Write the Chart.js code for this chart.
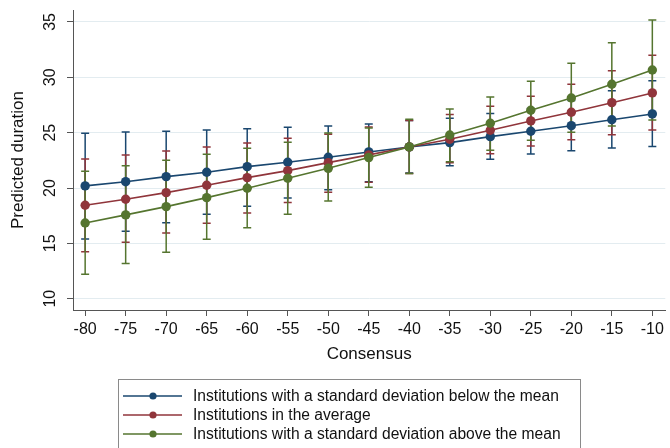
<!DOCTYPE html>
<html>
<head>
<meta charset="utf-8">
<script src="https://cdn.jsdelivr.net/npm/chart.js@4.4.1/dist/chart.umd.min.js"></script>
<style>
    html, body { margin: 0; padding: 0; background: #fff; }
    #wrap { width: 670px; height: 448px; }
</style>
</head>
<body>
<div id="wrap"><canvas id="durationChart" width="670" height="448"></canvas></div>
<script>
// data
const consensus = [-80, -75, -70, -65, -60, -55, -50, -45, -40, -35, -30, -25, -20, -15, -10];

const belowMean  = [20.19, 20.57, 21.03, 21.42, 21.93, 22.33, 22.78, 23.26, 23.71, 24.10, 24.64, 25.13, 25.63, 26.17, 26.69];
const belowHigh  = [24.95, 25.06, 25.13, 25.24, 25.36, 25.49, 25.60, 25.79, 26.10, 26.30, 26.72, 27.18, 27.90, 28.79, 29.70];
const belowLow   = [15.40, 16.10, 16.87, 17.63, 18.35, 19.10, 19.85, 20.57, 21.36, 22.02, 22.60, 23.08, 23.37, 23.62, 23.74];

const averageMean = [18.44, 18.98, 19.58, 20.25, 20.94, 21.57, 22.29, 22.99, 23.71, 24.40, 25.22, 26.06, 26.84, 27.71, 28.59];
const averageHigh = [22.62, 22.99, 23.35, 23.71, 24.07, 24.49, 24.86, 25.50, 26.10, 26.63, 27.38, 28.29, 29.37, 30.60, 31.99];
const averageLow  = [14.25, 15.10, 15.94, 16.81, 17.75, 18.68, 19.62, 20.52, 21.30, 22.29, 23.10, 23.80, 24.37, 24.82, 25.24];

const aboveMean  = [16.84, 17.57, 18.32, 19.13, 19.98, 20.88, 21.78, 22.75, 23.71, 24.79, 25.85, 27.02, 28.13, 29.37, 30.66];
const aboveHigh  = [21.51, 22.02, 22.50, 23.05, 23.59, 24.13, 24.97, 25.42, 26.21, 27.14, 28.22, 29.64, 31.27, 33.13, 35.18];
const aboveLow   = [12.21, 13.17, 14.20, 15.37, 16.42, 17.63, 18.83, 20.07, 21.30, 22.38, 23.40, 24.31, 25.03, 25.60, 26.15];

const seriesNames = [
    "Institutions with a standard deviation below the mean",
    "Institutions in the average",
    "Institutions with a standard deviation above the mean"
];

const xTicks = [-80, -75, -70, -65, -60, -55, -50, -45, -40, -35, -30, -25, -20, -15, -10];
const yTicks = [10, 15, 20, 25, 30, 35];

const navy = "#1a476f";
const maroon = "#90353b";
const forest = "#55752f";
const FONT = "'Liberation Sans', Arial, sans-serif";

const toPoints = (vals)=> consensus.map((c, i)=>({x: c, y: vals[i]}));

const makeSet = (label, vals, low, high, color, order)=>({
    label: label,
    data: toPoints(vals),
    errLow: low,
    errHigh: high,
    borderColor: color,
    backgroundColor: color,
    pointBackgroundColor: color,
    pointBorderColor: color,
    pointRadius: 4.7,
    pointBorderWidth: 0,
    borderWidth: 1.6,
    tension: 0,
    order: order
});

// vertical CI bars with caps, drawn under the lines
const errorBars = {
    id: "errorBars",
    beforeDatasetsDraw(chart){
        const {ctx, scales: {x, y}} = chart;
        ctx.save();
        ctx.lineWidth = 1.5;
        chart.data.datasets.forEach((ds)=>{
            ctx.strokeStyle = ds.borderColor;
            ds.data.forEach((p, i)=>{
                const px = x.getPixelForValue(p.x);
                const top = y.getPixelForValue(ds.errHigh[i]);
                const bot = y.getPixelForValue(ds.errLow[i]);
                ctx.beginPath();
                ctx.moveTo(px, top);
                ctx.lineTo(px, bot);
                ctx.moveTo(px - 4, top);
                ctx.lineTo(px + 4, top);
                ctx.moveTo(px - 4, bot);
                ctx.lineTo(px + 4, bot);
                ctx.stroke();
            });
        });
        ctx.restore();
    }
};

// boxed legend under the axis title
const boxLegend = {
    id: "boxLegend",
    afterDraw(chart){
        const ctx = chart.ctx;
        ctx.save();
        ctx.strokeStyle = "#8a8a8a";
        ctx.lineWidth = 1;
        ctx.strokeRect(118.5, 379.5, 462, 90);
        ctx.font = "15.6px " + FONT;
        ctx.textBaseline = "middle";
        ctx.textAlign = "left";
        chart.data.datasets.forEach((ds, i)=>{
            const yy = 396 + i * 19;
            ctx.strokeStyle = ds.borderColor;
            ctx.lineWidth = 1.6;
            ctx.beginPath();
            ctx.moveTo(123, yy);
            ctx.lineTo(182, yy);
            ctx.stroke();
            ctx.fillStyle = ds.borderColor;
            ctx.beginPath();
            ctx.arc(153, yy, 3.6, 0, Math.PI * 2);
            ctx.fill();
            ctx.fillStyle = "#111";
            ctx.fillText(ds.label, 193, yy + 1);
        });
        ctx.restore();
    }
};

const ctx = document.getElementById("durationChart");

new Chart(ctx, {
    type: "line",
    data: {
        datasets: [
            makeSet(seriesNames[0], belowMean, belowLow, belowHigh, navy, 3),
            makeSet(seriesNames[1], averageMean, averageLow, averageHigh, maroon, 2),
            makeSet(seriesNames[2], aboveMean, aboveLow, aboveHigh, forest, 1)
        ]
    },
    options: {
        responsive: false,
        animation: false,
        devicePixelRatio: 1,
        layout: { padding: { top: 10, right: 0, bottom: 0, left: 0 } },
        plugins: {
            legend: { display: false },
            tooltip: { enabled: false }
        },
        scales: {
            x: {
                type: "linear",
                min: -81.5,
                max: -8.4,
                afterBuildTicks: (s)=>{ s.ticks = xTicks.map(v=>({value: v})); },
                afterFit: (s)=>{
                    s.height = 138;
                    s.paddingLeft = 0;
                    s.paddingRight = 0;
                },
                grid: { drawOnChartArea: false, drawTicks: true, tickLength: 6, tickColor: "#555", tickWidth: 1 },
                border: { display: true, color: "#555", width: 1 },
                ticks: { color: "#111", font: { family: FONT, size: 16 }, padding: 4, maxRotation: 0, autoSkip: false },
                title: {
                    display: true,
                    text: "Consensus",
                    color: "#111",
                    font: { family: FONT, size: 17 },
                    padding: { top: 0, bottom: 83 }
                }
            },
            y: {
                type: "linear",
                min: 8.98,
                max: 36.08,
                afterBuildTicks: (s)=>{ s.ticks = yTicks.map(v=>({value: v})); },
                afterFit: (s)=>{
                    s.width = 73;
                    s.paddingTop = 0;
                    s.paddingBottom = 0;
                },
                grid: { color: "#e3ecf0", lineWidth: 1, drawTicks: true, tickLength: 6, tickColor: "#555", tickWidth: 1 },
                border: { display: true, color: "#555", width: 1 },
                ticks: {
                    color: "#111",
                    font: { family: FONT, size: 16 },
                    minRotation: 90,
                    maxRotation: 90,
                    crossAlign: "center",
                    padding: 7.5
                },
                title: {
                    display: true,
                    text: "Predicted duration",
                    color: "#111",
                    font: { family: FONT, size: 17 },
                    padding: { top: 8, bottom: 0 }
                }
            }
        }
    },
    plugins: [errorBars, boxLegend]
});
</script>
</body>
</html>
